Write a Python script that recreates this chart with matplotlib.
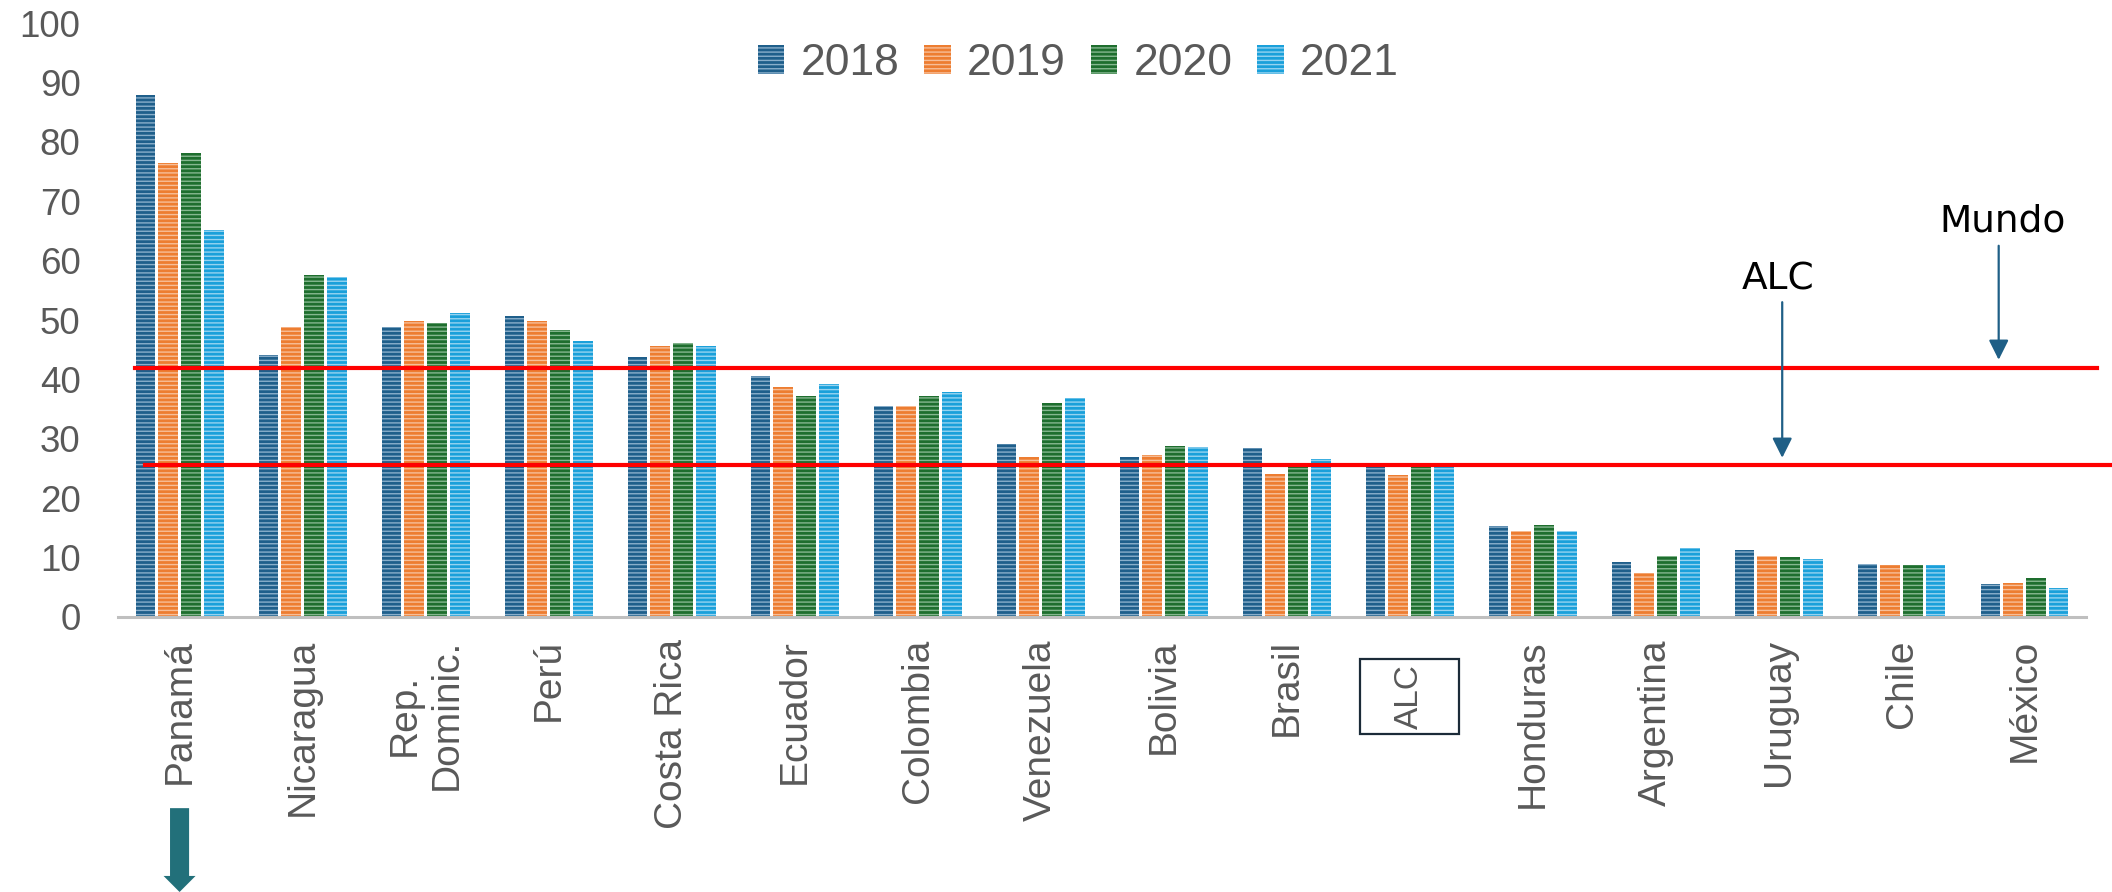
import numpy as np
import matplotlib; matplotlib.use('Agg')
import matplotlib.pyplot as plt
import matplotlib.transforms as mtransforms
from matplotlib.patches import Rectangle, FancyArrow

countries = ['Panamá', 'Nicaragua', 'Rep.\nDominic.', 'Perú', 'Costa Rica', 'Ecuador',
             'Colombia', 'Venezuela', 'Bolivia', 'Brasil', 'ALC', 'Honduras',
             'Argentina', 'Uruguay', 'Chile', 'México']
years = ['2018', '2019', '2020', '2021']
v2018 = [87.8, 44.1, 48.9, 50.6, 43.8, 40.6, 35.6, 29.2, 27.0, 28.4, 25.2, 15.4, 9.3, 11.2, 8.9, 5.6]
v2019 = [76.4, 48.9, 49.9, 49.9, 45.7, 38.8, 35.5, 26.9, 27.2, 24.1, 23.9, 14.5, 7.4, 10.2, 8.7, 5.8]
v2020 = [78.1, 57.5, 49.5, 48.3, 46.2, 37.2, 37.2, 36.1, 28.8, 25.2, 25.2, 15.5, 10.2, 10.1, 8.8, 6.6]
v2021 = [65.1, 57.3, 51.2, 46.4, 45.6, 39.3, 37.8, 36.8, 28.6, 26.6, 25.2, 14.4, 11.6, 9.8, 8.7, 4.9]
mundo_level = 42.0
alc_level = 25.6

series = [v2018, v2019, v2020, v2021]
faces = ['#1F5F8B', '#ED7D31', '#1E6E2E', '#1AA0DA']
stripes = ['#8AAFCB', '#F7BE98', '#86B790', '#96D3F0']

plt.rcParams['font.family'] = ['Liberation Sans', 'DejaVu Sans']
plt.rcParams['hatch.linewidth'] = 1.0

fig = plt.figure(figsize=(21.12, 8.92), dpi=100)
ax = fig.add_axes([0.0559, 0.3083, 0.9318, 0.6659])

x = np.arange(len(countries))
slot = 0.185
for i, (vals, fc, sc, yr) in enumerate(zip(series, faces, stripes, years)):
    ax.bar(x + (i - 1.5) * slot, vals, width=0.16, color=fc, edgecolor=sc,
           linewidth=0, hatch='----', label=yr)

ax.set_xlim(-0.5, len(countries) - 0.5)
ax.set_ylim(0, 100)
ax.set_yticks(np.arange(0, 101, 10))
ax.tick_params(axis='y', length=0, pad=27, labelsize=26.5, labelcolor='#595959')
ax.set_xticks(x)
ax.set_xticklabels(countries, rotation=90, multialignment='center')
ax.tick_params(axis='x', length=0, pad=16, labelsize=28, labelcolor='#595959')
for s in ['top', 'right', 'left']:
    ax.spines[s].set_visible(False)
ax.spines['bottom'].set_color('#BFBFBF')
ax.spines['bottom'].set_linewidth(2.2)

# reference lines (extend a bit past the axis like the original)
ax.plot([-0.36, 15.59], [mundo_level, mundo_level], color='#FF0000', lw=3, clip_on=False, zorder=4)
ax.plot([-0.28, 16.1], [alc_level, alc_level], color='#FF0000', lw=3, clip_on=False, zorder=4)

arrow_kw = dict(arrowstyle='-|>,head_length=0.6,head_width=0.3', color='#1F5F86',
                lw=1.6, mutation_scale=20, shrinkA=0, shrinkB=0)
ax.annotate('', xy=(13.03, alc_level + 1.2), xytext=(13.03, 53.0),
            arrowprops=arrow_kw, annotation_clip=False, zorder=5)
ax.annotate('', xy=(14.79, mundo_level + 1.3), xytext=(14.79, 62.5),
            arrowprops=arrow_kw, annotation_clip=False, zorder=5)
ax.text(13.0, 56.8, 'ALC', fontsize=27, family='DejaVu Sans', color='black',
        ha='center', va='center')
ax.text(14.82, 66.6, 'Mundo', fontsize=27, family='DejaVu Sans', color='black',
        ha='center', va='center')

# boxed ALC category label
alc_idx = countries.index('ALC')
ax.get_xticklabels()[alc_idx].set_visible(False)
blend = mtransforms.blended_transform_factory(ax.transData, fig.transFigure)
fig.add_artist(Rectangle((alc_idx - 0.4, 0.1771), 0.8, 0.0841, transform=blend,
                         fill=False, edgecolor='#1B2B38', lw=1.6))
fig.text(alc_idx, 0.2191, 'ALC', transform=blend, rotation=90, fontsize=24,
         color='#595959', ha='center', va='center')

# teal arrow under Panamá
fig.add_artist(FancyArrow(0, 0.094, 0, -0.094, width=0.155, head_width=0.26,
                          head_length=0.018, length_includes_head=True,
                          transform=blend, color='#22707A', lw=0))

ax.legend(loc='center', bbox_to_anchor=(0.488, 0.9317), ncol=4, frameon=False,
          fontsize=32, labelcolor='#595959', handlelength=0.6, handleheight=0.6,
          handletextpad=0.37, columnspacing=0.55)

fig.savefig('out.png', dpi=100)
